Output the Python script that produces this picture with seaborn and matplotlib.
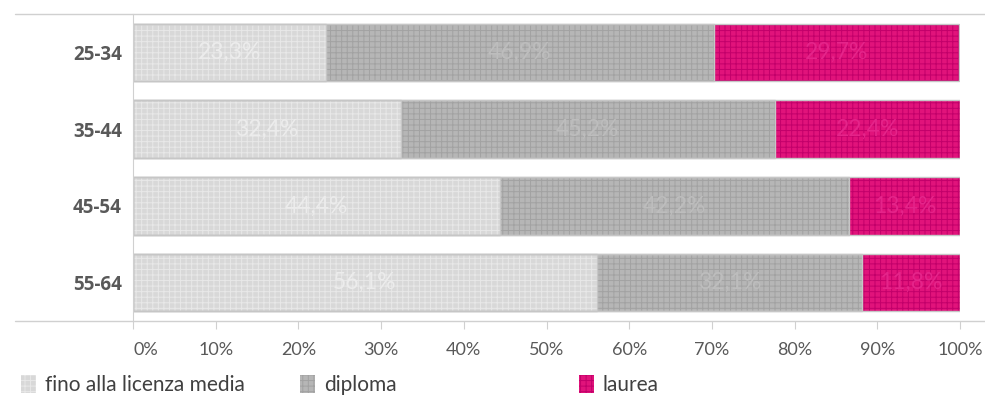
import matplotlib
matplotlib.use("Agg")
import matplotlib.pyplot as plt
import seaborn as sns
import numpy as np
import pandas as pd
from matplotlib.lines import Line2D
from matplotlib.patches import Patch

# Age classes and share of each education level (%)
age_classes = ["25-34", "35-44", "45-54", "55-64"]
licenza_media = [23.3, 32.4, 44.4, 56.1]
diploma = [46.9, 45.2, 42.2, 32.1]
laurea = [29.7, 22.4, 13.4, 11.8]
series_names = ["fino alla licenza media", "diploma", "laurea"]
tick_labels = ["0%", "10%", "20%", "30%", "40%", "50%", "60%", "70%", "80%", "90%", "100%"]

sns.set_theme(style="white")
plt.rcParams["font.family"] = ["Lato", "DejaVu Sans"]
plt.rcParams["hatch.linewidth"] = 0.7

fill_colors = ["#d8d8d8", "#b6b6b6", "#e1137b"]
hatch_colors = ["#e8e8e8", "#a2a2a2", "#c2006a"]
label_colors = ["#ececec", "#bdbdbd", "#e5248a"]
border_color = "#c6c6c6"
hatch = "+++"

df = pd.DataFrame({
    "classe": age_classes,
    series_names[0]: licenza_media,
    series_names[1]: diploma,
    series_names[2]: laurea,
})
values = df[series_names].to_numpy()
cum = np.cumsum(values, axis=1)

fig = plt.figure(figsize=(9.85, 3.98), dpi=100)
ax = fig.add_axes([133 / 985, 1 - 321 / 398, (960 - 133) / 985, (321 - 14) / 398])

# Stacked bars: draw cumulative totals from the outermost segment inwards
for k in range(2, -1, -1):
    sns.barplot(x=cum[:, k], y=df["classe"], orient="h", ax=ax,
                color=fill_colors[k], saturation=1, width=0.75,
                edgecolor=hatch_colors[k], linewidth=0, hatch=hatch)
for k in range(2, -1, -1):
    sns.barplot(x=cum[:, k], y=df["classe"], orient="h", ax=ax,
                color=border_color, saturation=1, width=0.75,
                fill=False, linewidth=1.0)

# Segment value labels
for i in range(len(age_classes)):
    for k in range(3):
        centre = cum[i, k] - values[i, k] / 2
        ax.text(centre, i, f"{values[i, k]:.1f}%".replace(".", ","),
                ha="center", va="center", fontsize=16.5, color=label_colors[k])

ax.set_xlim(0, 100)
ax.set_ylim(3.5, -0.5)
ax.set_xticks(np.arange(0, 101, 10))
ax.set_xticklabels(tick_labels, fontsize=13, color="#595959")
ax.get_xticklabels()[0].set_horizontalalignment("left")
ax.set_yticks(range(len(age_classes)))
ax.set_yticklabels(age_classes, fontsize=13.5, fontweight="bold", color="#595959",
                   family=["Open Sans", "DejaVu Sans"])
ax.set_xlabel("")
ax.set_ylabel("")
ax.tick_params(axis="x", length=6, width=0.8, color="#d0d0d0", pad=9, bottom=True)
ax.tick_params(axis="y", length=0, pad=8)
for side in ["top", "right", "bottom"]:
    ax.spines[side].set_visible(False)
ax.spines["left"].set_color("#d0d0d0")
ax.spines["left"].set_linewidth(0.8)

# Horizontal rules spanning the figure at the top and bottom of the plot area
for y in (1 - 14 / 398, 1 - 321 / 398):
    fig.add_artist(Line2D([15 / 985, 1.0], [y, y], transform=fig.transFigure,
                          color="#d0d0d0", linewidth=1.0))

# Legend
handles = [Patch(facecolor=fill_colors[k], edgecolor=hatch_colors[k], hatch=hatch,
                 linewidth=0) for k in range(3)]
xs = [21 / 985, 300 / 985, 579 / 985]
for k in range(3):
    fig.legend(handles=[handles[k]], labels=[series_names[k]],
               loc="center left", bbox_to_anchor=(xs[k], 1 - 385 / 398),
               frameon=False, fontsize=15, handlelength=0.7, handleheight=1.0,
               handletextpad=0.45, borderaxespad=0, borderpad=0,
               labelcolor="#404040")

fig.savefig("out.png", dpi=100)
